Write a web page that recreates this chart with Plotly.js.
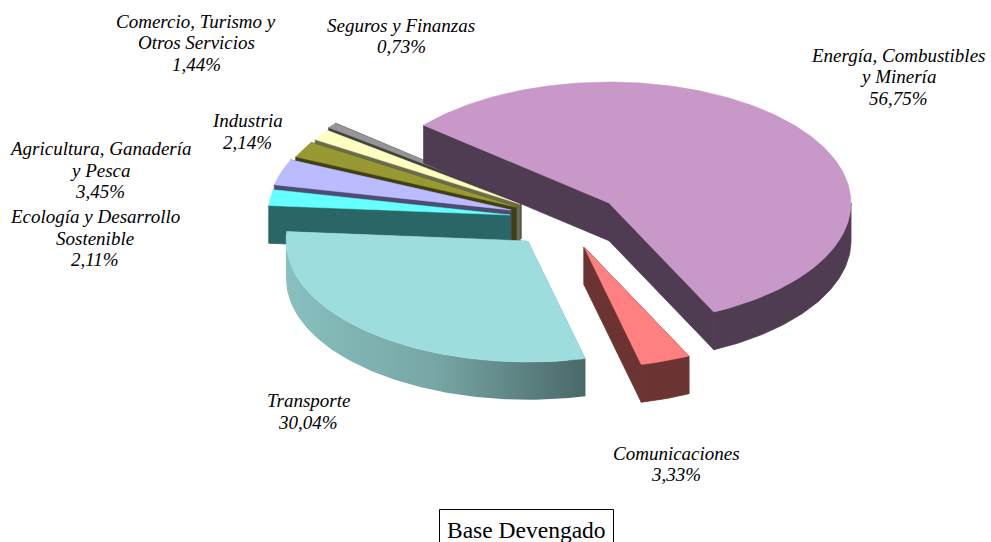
<!DOCTYPE html>
<html><head><meta charset="utf-8">
<script src="https://cdn.plot.ly/plotly-3.0.1.min.js"></script>
<style>html,body{margin:0;padding:0;background:#fff;overflow:hidden}#c{width:991px;height:542px}</style>
</head><body><div id="c"></div>
<script>
// Data
const categories = ["Energía, Combustibles<br>y Minería","Comunicaciones","Transporte","Ecología y Desarrollo<br>Sostenible","Agricultura, Ganadería<br>y Pesca","Industria","Comercio, Turismo y<br>Otros Servicios","Seguros y Finanzas"];
const values = [56.75,3.33,30.04,2.11,3.45,2.14,1.44,0.73];
// Styles
const topColors  = ["#C798C8","#FF8080","#9EDDDD","#66FFFF","#BBBBFF","#999933","#FFFFC0","#969696"];
const sideColors = ["#503C52","#6B3331","#6F9C9C","#2B6666","#4D4D73","#404010","#6B6B50","#404040"];
// Exploded apex of each slice on the page
const apexX = [609,584,528,510,511,516,520,521];
const apexY = [203,247,241,215,210,207,204,201];
const labelX = [898,676,308,95,100,247,196,401];
const labelY = [76.5,464,411.5,238,170,131.5,42.5,36];
// Projection of the tilted pie
const RX=242, RY=121, DEPTH=37.7, START=-50;
const rad=d=>d*Math.PI/180;
const px=(i,t)=>apexX[i]+RX*Math.sin(rad(t));
const py=(i,t)=>apexY[i]-RY*Math.cos(rad(t));
const total=values.reduce((a,b)=>a+b,0);
const arc=(t0,t1)=>{const n=Math.max(2,Math.ceil(Math.abs(t1-t0)));return Array.from({length:n+1},(_,k)=>t0+(t1-t0)*k/n);};

let cum=START;
const spans=values.map(v=>{const s=[cum,cum+v/total*360];cum=s[1];return s;});

const traces=[];
const poly=(X,Y,color,w,i,extra)=>traces.push(Object.assign({type:"scatter",mode:"lines",x:X,y:Y,fill:"toself",fillcolor:color,
    line:{color:color,width:w},name:categories[i].replace("<br>"," "),hoverinfo:"skip",showlegend:false},extra||{}));
const gradient={fillgradient:{type:"horizontal",start:287,stop:586,colorscale:[[0,"#88BFBF"],[0.5,"#76A6A5"],[1,"#4A6868"]]},line:{width:0}};
// painter's order: back slices first, then the large ones
const order=[7,6,5,4,3,0,1,2];
order.forEach(i=>{
  const [t0,t1]=spans[i];
  const extra=i===2?gradient:null;
  [t0,t1].forEach(t=>{
    poly([apexX[i],px(i,t),px(i,t),apexX[i],apexX[i]],
         [apexY[i],py(i,t),py(i,t)+DEPTH,apexY[i]+DEPTH,apexY[i]],sideColors[i],0.8,i,extra);
  });
  const a=Math.max(t0,90),b=Math.min(t1,270);
  if(b>a){
    const ts=arc(a,b),X=[],Y=[];
    ts.forEach(t=>{X.push(px(i,t));Y.push(py(i,t));});
    ts.slice().reverse().forEach(t=>{X.push(px(i,t));Y.push(py(i,t)+DEPTH);});
    X.push(px(i,a));Y.push(py(i,a));
    poly(X,Y,sideColors[i],0.8,i,extra);
  }
  const tx=[apexX[i]],ty=[apexY[i]];
  arc(t0,t1).forEach(t=>{tx.push(px(i,t));ty.push(py(i,t));});
  tx.push(apexX[i]);ty.push(apexY[i]);
  poly(tx,ty,topColors[i],0.5,i,{text:values[i].toFixed(2).replace(".",",")+"%",hoverinfo:"name+text"});
});

const SERIF="'Liberation Serif','Times New Roman',serif";
const LINE=21.5;
const annotations=[];
categories.forEach((c,i)=>{
  const lines=c.split("<br>").concat(values[i].toFixed(2).replace(".",",")+"%");
  lines.forEach((txt,k)=>annotations.push({
    xref:"x",yref:"y",x:labelX[i],y:labelY[i]+(k-(lines.length-1)/2)*LINE,xanchor:"center",yanchor:"middle",showarrow:false,align:"center",
    text:txt,font:{family:SERIF,size:19,color:"#000",style:"italic"}
  }));
});
annotations.push({xref:"x",yref:"y",x:526,y:529.5,xanchor:"center",yanchor:"middle",showarrow:false,
  text:"Base Devengado",font:{family:SERIF,size:23.5,color:"#000"}});

Plotly.newPlot("c",traces,{
  width:991,height:542,margin:{l:0,r:0,t:0,b:0},
  paper_bgcolor:"#fff",plot_bgcolor:"#fff",showlegend:false,
  xaxis:{range:[0,991],visible:false,fixedrange:true},
  yaxis:{range:[542,0],visible:false,fixedrange:true},
  annotations,
  shapes:[{type:"rect",xref:"x",yref:"y",x0:439.5,x1:613.5,y0:509.5,y1:546,line:{color:"#000",width:1},fillcolor:"rgba(0,0,0,0)"}]
},{displayModeBar:false});
</script></body></html>
